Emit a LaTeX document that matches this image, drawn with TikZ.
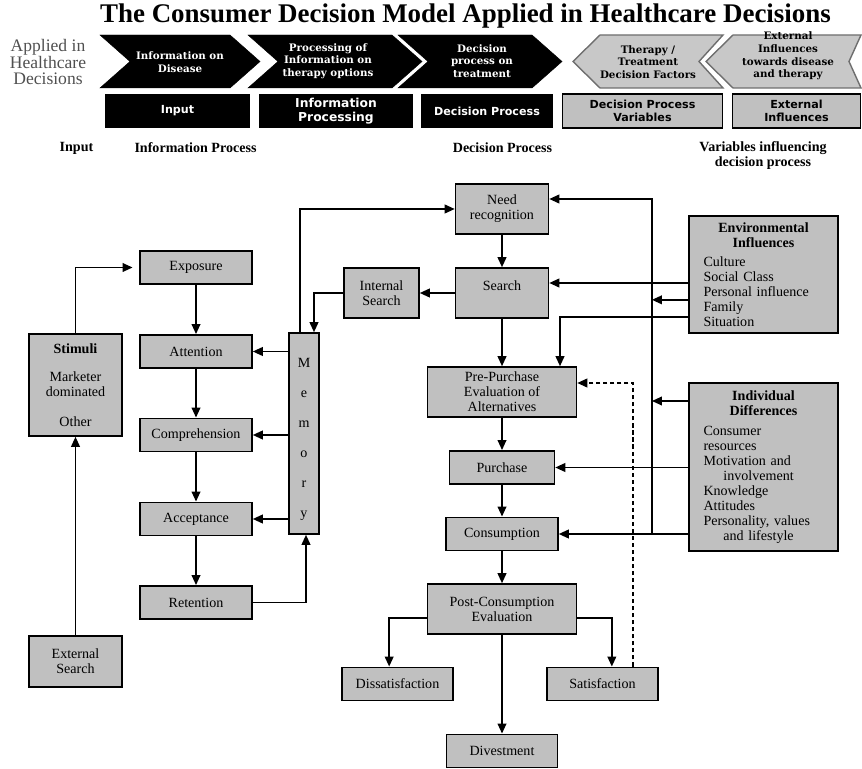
\documentclass[tikz,border=0pt]{standalone}
\usepackage{fontspec}
\setmainfont{Liberation Serif}
\newfontfamily\hdrfont{DejaVu Serif}
\newfontfamily\tabfont{DejaVu Sans}
\usepackage{xcolor}
\usepackage{tikz}
\usetikzlibrary{arrows.meta,positioning}

\definecolor{boxgray}{RGB}{192,192,192}
\definecolor{chevgray}{RGB}{200,200,200}
\definecolor{chevedge}{RGB}{110,110,110}
\definecolor{sidegray}{RGB}{80,80,80}

\begin{document}
\begin{tikzpicture}[
    x=0.03cm, y=-0.03cm,
    box/.style={rectangle, draw, line width=1.4pt, fill=boxgray, inner sep=1pt, font=\fontsize{12}{12.8}\selectfont},
    stage/.style={box, align=center, minimum width=3.36cm, minimum height=1cm},
    tall/.style={box, align=center, minimum width=2.79cm, minimum height=1.5cm},
    wide/.style={box, align=center, minimum width=4.47cm, minimum height=1.5cm},
    arrow/.style={-{Triangle[length=8.5pt,width=7.5pt]}, line width=1.2pt},
    chevdark/.style={fill=black, draw=black},
    chevlight/.style={fill=chevgray, draw=chevedge, line width=1.2pt},
    chevtext/.style={align=center, font=\hdrfont\bfseries\fontsize{8.8}{10.8}\selectfont},
    tabdark/.style={rectangle, fill=black, minimum height=1.02cm, align=center, text=white, font=\tabfont\bfseries\fontsize{9.5}{11}\selectfont},
    tablight/.style={rectangle, draw, line width=1.5pt, fill=boxgray, minimum height=1.02cm, align=center, font=\tabfont\bfseries\fontsize{9.5}{11}\selectfont},
    headline/.style={align=center, font=\bfseries\fontsize{12}{12.8}\selectfont}
]
    \useasboundingbox (0,0) rectangle (862,769);

    % title and header band
    \node[font=\bfseries\fontsize{23}{27}\selectfont] (title) at (465.5,16) {The Consumer Decision Model Applied in Healthcare Decisions};
    \node[align=center, text=sidegray, font=\fontsize{15}{14}\selectfont] (applied) at (48,62) {Applied in\\Healthcare\\Decisions};

    \draw[chevdark] (100,35) -- (230,35) -- (260,61.5) -- (230,88) -- (100,88) -- (130,61.5) -- cycle;
    \draw[chevdark] (248,35) -- (392,35) -- (422,61.5) -- (392,88) -- (248,88) -- (278,61.5) -- cycle;
    \draw[chevdark] (398,35) -- (532,35) -- (562,61.5) -- (532,88) -- (398,88) -- (428,61.5) -- cycle;
    \draw[chevlight] (573,61.5) -- (600,35) -- (723,35) -- (699,61.5) -- (723,88) -- (600,88) -- cycle;
    \draw[chevlight] (706,61.5) -- (733,35) -- (861,35) -- (849,61.5) -- (861,88) -- (733,88) -- cycle;

    \node[chevtext, text=white] (hinfo) at (180,62) {Information on\\Disease};
    \node[chevtext, text=white] (hproc) at (328,61) {Processing of\\Information on\\therapy options};
    \node[chevtext, text=white] (hdec) at (482,61) {Decision\\process on\\treatment};
    \node[chevtext] (hther) at (648,62) {Therapy /\\Treatment\\Decision Factors};
    \node[chevtext] (hext) at (788,56) {External\\Influences\\towards disease\\and therapy};

    \node[tabdark, minimum width=4.35cm] (tinput) at (177.5,111) {Input};
    \node[tabdark, minimum width=4.62cm, font=\tabfont\bfseries\fontsize{10.5}{11.5}\selectfont] (tproc) at (336,111) {Information\\Processing};
    \node[tabdark, minimum width=3.96cm] (tdec) at (487,111) {Decision Process};
    \node[tablight, minimum width=4.8cm] (tvar) at (642.5,111) {Decision Process\\Variables};
    \node[tablight, minimum width=3.84cm] (text) at (796.5,111) {External\\Influences};

    \node[headline] (lblinput) at (76.5,148) {Input};
    \node[headline] (lblinfo) at (195.5,148) {Information Process};
    \node[headline] (lbldec) at (502.5,148) {Decision Process};
    \node[headline] (lblvar) at (763,155.5) {Variables influencing\\decision process};

    % information processing
    \node[tall, minimum height=3.06cm] (stimuli) at (75.5,385) {\textbf{Stimuli}\\[11pt]Marketer\\dominated\\[12.5pt]Other};
    \node[tall, minimum height=1.53cm] (extsearch) at (75.5,661.5) {External\\Search};
    \node[stage] (exposure) at (196,267.5) {Exposure};
    \node[stage] (attention) at (196,351.5) {Attention};
    \node[stage] (comprehension) at (196,435) {Comprehension};
    \node[stage] (acceptance) at (196,519) {Acceptance};
    \node[stage] (retention) at (196,602.5) {Retention};
    \node[box, align=center, minimum width=0.9cm, minimum height=6.03cm, font=\fontsize{12}{25.5}\selectfont] (memory) at (304,433.5) {\rule{0pt}{18pt}M\\e\\m\\o\\r\\y};
    \node[tall, minimum width=2.25cm] (intsearch) at (381.5,293) {Internal\\Search};

    % decision process
    \node[tall] (needrec) at (502,209) {Need\\recognition};
    \node[tall] (search) at (502,293) {Search\\\phantom{S}};
    \node[wide] (prepurchase) at (502,392) {Pre-Purchase\\Evaluation of\\Alternatives};
    \node[stage, minimum width=3.15cm] (purchase) at (502,467.5) {Purchase};
    \node[stage] (consumption) at (502,534) {Consumption};
    \node[wide] (postcons) at (502,609) {Post-Consumption\\Evaluation};
    \node[stage, minimum width=3.33cm] (dissat) at (397.5,684) {Dissatisfaction};
    \node[stage, minimum width=3.33cm] (satisf) at (602.5,684) {Satisfaction};
    \node[stage, minimum width=3.33cm] (divest) at (502,751) {Divestment};

    % influences
    \node[box, minimum width=4.47cm, minimum height=3.51cm, text width=3.6cm] (envinf) at (763.5,274.5)
        {\centering\textbf{Environmental}\\\textbf{Influences}\par\vspace{3.4pt}\raggedright Culture\\Social Class\\Personal influence\\Family\\Situation};
    \node[box, minimum width=4.47cm, minimum height=5.04cm, text width=3.6cm] (inddiff) at (763.5,467)
        {\centering\textbf{Individual}\\\textbf{Differences}\par\vspace{4.2pt}\raggedright Consumer\\resources\\Motivation and\\\hspace*{17pt}involvement\\Knowledge\\Attitudes\\Personality, values\\\hspace*{17pt}and lifestyle};

    % connectors
    \draw[arrow] (extsearch) -- (stimuli);
    \draw[arrow] (stimuli.north) |- ([xshift=-2mm]exposure.west);
    \draw[arrow] (exposure) -- (attention);
    \draw[arrow] (attention) -- (comprehension);
    \draw[arrow] (comprehension) -- (acceptance);
    \draw[arrow] (acceptance) -- (retention);
    \draw[arrow] (memory.west |- attention.east) -- (attention.east);
    \draw[arrow] (memory.west |- comprehension.east) -- (comprehension.east);
    \draw[arrow] (memory.west |- acceptance.east) -- (acceptance.east);
    \draw[arrow] (retention.east) -| ([xshift=0.06cm]memory.south);
    \draw[arrow] (intsearch.west) -| ([xshift=0.3cm]memory.north);
    \draw[arrow] ([xshift=-0.12cm]memory.north) |- (needrec.west);

    \draw[arrow] (needrec) -- (search);
    \draw[arrow] (search.west) -- (intsearch.east);
    \draw[arrow] (search) -- (prepurchase);
    \draw[arrow] (prepurchase) -- (purchase);
    \draw[arrow] (purchase) -- (consumption);
    \draw[arrow] (consumption) -- (postcons);
    \draw[arrow] ([yshift=-0.27cm]postcons.west) -| ([xshift=-0.25cm]dissat.north);
    \draw[arrow] ([yshift=-0.27cm]postcons.east) -| ([xshift=0.28cm]satisf.north);
    \draw[arrow] (postcons) -- (divest);
    \draw[arrow, dash pattern=on 3.5pt off 2.5pt] ([xshift=0.92cm]satisf.north) |- ([yshift=0.27cm]prepurchase.east);

    \coordinate (join) at (652,534);
    \coordinate (srchin) at ([yshift=0.3cm]search.east);
    \coordinate (env2) at ([yshift=-0.76cm]envinf.west);
    \coordinate (ind1) at ([yshift=1.98cm]inddiff.west);
    \draw[arrow] (join) |- ([yshift=0.3cm]needrec.east);
    \draw[arrow] (envinf.west |- srchin) -- (srchin);
    \draw[arrow] (env2) -- (env2 -| join);
    \draw[arrow] ([yshift=-1.28cm]envinf.west) -| ([xshift=1.74cm]prepurchase.north);
    \draw[arrow] (ind1) -- (ind1 -| join);
    \draw[arrow] (inddiff.west |- purchase.east) -- (purchase.east);
    \draw[arrow] (inddiff.west |- consumption.east) -- (consumption.east);
\end{tikzpicture}
\end{document}
